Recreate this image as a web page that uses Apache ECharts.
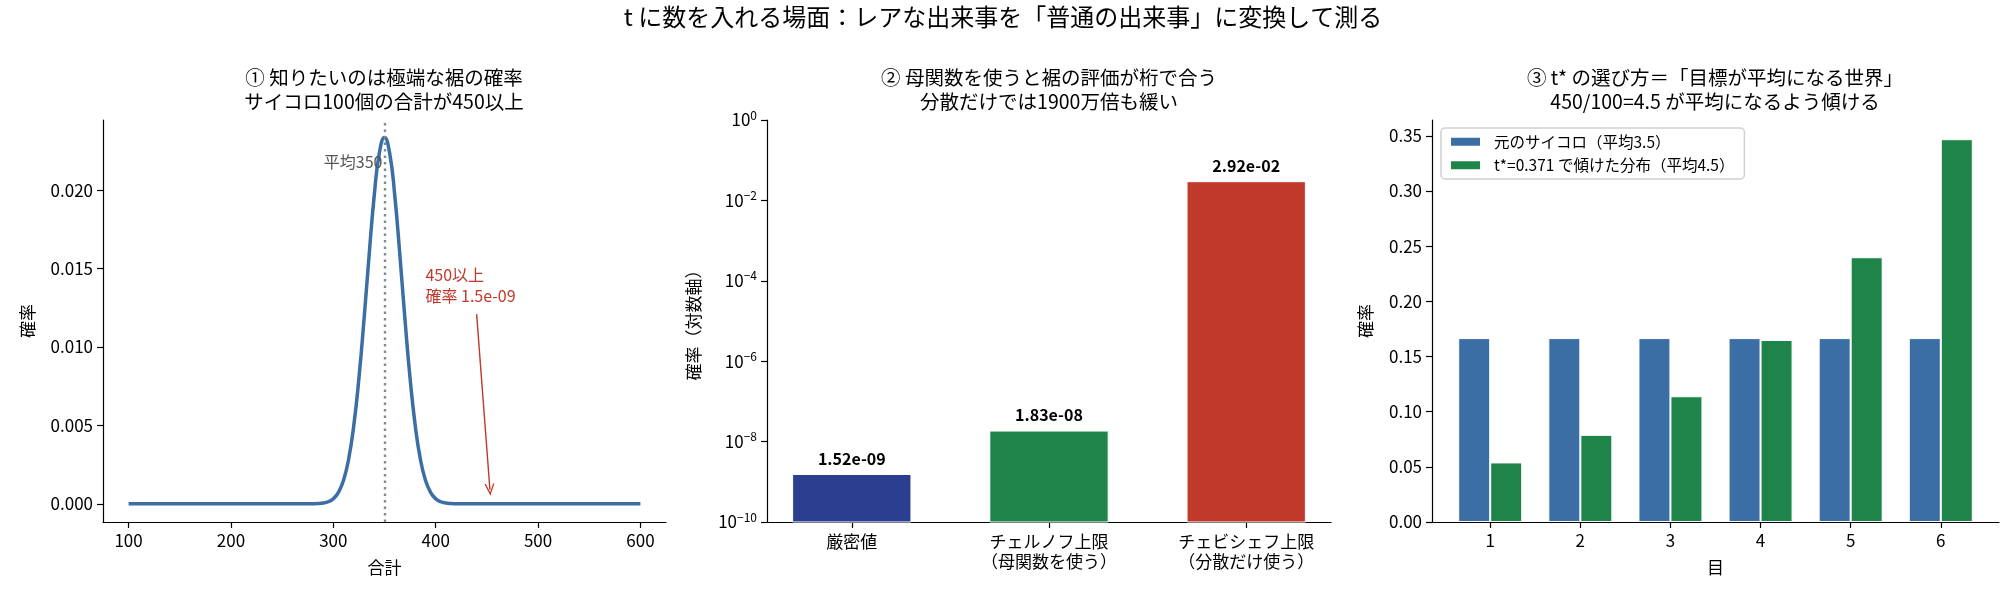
<!DOCTYPE html>
<html lang="ja">
<head>
<meta charset="UTF-8">
<title>t に数を入れる場面</title>
<script src="https://cdn.jsdelivr.net/npm/echarts@6/dist/echarts.min.js"></script>
<style>
  * {margin: 0; padding: 0;}
  body {background: #fff;}
  #main {width: 2015px; height: 598px;}
</style>
</head>
<body>
<div id="main"></div>
<script>
// ---- data ----
const sumX = [100, 200, 250, 270, 275, 280, 285, 290, 295, 300, 305, 310, 315, 320, 325, 330, 335, 340, 345,
              350, 355, 360, 365, 370, 375, 380, 385, 390, 395, 400, 405, 410, 415, 420, 425, 430, 450, 500, 600];
const sumProb = [0, 0, 0, 0.0000004, 0.0000015, 0.0000053, 0.0000167, 0.0000489, 0.000131, 0.000322, 0.000726,
                 0.00151, 0.00286, 0.00500, 0.00800, 0.01177, 0.01588, 0.01968, 0.02238,
                 0.02336, 0.02238, 0.01968, 0.01588, 0.01177, 0.00800, 0.00500, 0.00286, 0.00151, 0.000726,
                 0.000322, 0.000131, 0.0000489, 0.0000167, 0.0000053, 0.0000015, 0.0000004, 0, 0, 0];
const sumTicks = [100, 200, 300, 400, 500, 600];
const probTicks = [0, 0.005, 0.010, 0.015, 0.020];
const meanSum = 350;
const tailSum = 450;
const tailProbText = '1.5e-09';

const boundNames = ['厳密値', 'チェルノフ上限\n（母関数を使う）', 'チェビシェフ上限\n（分散だけ使う）'];
const boundValues = [1.52e-9, 1.83e-8, 2.92e-2];
const logTicks = [1e-10, 1e-8, 1e-6, 1e-4, 1e-2, 1];

const faces = [1, 2, 3, 4, 5, 6];
const fairProbs = [0.1667, 0.1667, 0.1667, 0.1667, 0.1667, 0.1667];
const tiltedProbs = [0.054, 0.079, 0.114, 0.165, 0.240, 0.347];
const faceProbTicks = [0, 0.05, 0.10, 0.15, 0.20, 0.25, 0.30, 0.35];

const seriesNames = ['元のサイコロ（平均3.5）', 't*=0.371 で傾けた分布（平均4.5）'];

const suptitle = 't に数を入れる場面：レアな出来事を「普通の出来事」に変換して測る';
const panelTitles = [
  '① 知りたいのは極端な裾の確率\nサイコロ100個の合計が450以上',
  '② 母関数を使うと裾の評価が桁で合う\n分散だけでは1900万倍も緩い',
  '③ t* の選び方＝「目標が平均になる世界」\n450/100=4.5 が平均になるよう傾ける'
];

// ---- styles ----
const FONT = "'Noto Sans CJK JP', 'Noto Sans', sans-serif";
const BLUE = '#3a6ea5', GREEN = '#1e8449', RED = '#c0392b', NAVY = '#2c3e8f', SLATE = '#7f8c8d';
const boundColors = [NAVY, GREEN, RED];
// open "->" arrow head, tip pointing up
const OPEN_ARROW = 'path://M5,0 L10,10 L8.6,10 L5,2.8 L1.4,10 L0,10 Z';

function axisBase(extra) {
  const a = {
    axisLine: {show: true, onZero: false, lineStyle: {color: '#000', width: 1.2}},
    axisTick: {show: true, length: 6, lineStyle: {color: '#000', width: 1.2}},
    axisLabel: {color: '#000', fontSize: 17, fontFamily: FONT, margin: 10},
    splitLine: {show: false},
    nameLocation: 'middle',
    nameTextStyle: {color: '#000', fontSize: 17, fontFamily: FONT}
  };
  return Object.assign(a, extra);
}

function sci(v) {
  const parts = v.toExponential(2).split('e');
  const e = parseInt(parts[1], 10);
  return parts[0] + 'e' + (e < 0 ? '-' : '+') + String(Math.abs(e)).padStart(2, '0');
}

const chart = echarts.init(document.getElementById('main'));

const option = {
  backgroundColor: '#fff',
  animation: false,
  textStyle: {fontFamily: FONT},
  grid: [
    {left: 103, top: 120, width: 563, height: 402},
    {left: 767, top: 120, width: 564, height: 402},
    {left: 1432, top: 120, width: 567, height: 402}
  ],
  graphic: [
    {type: 'text', x: 1003, y: 4, style: {text: suptitle, font: '24px ' + FONT, lineHeight: 26, fill: '#000', align: 'center', verticalAlign: 'top'}},
    {type: 'text', x: 384, y: 66, style: {text: panelTitles[0], font: '19.5px ' + FONT, lineHeight: 24, fill: '#000', align: 'center', verticalAlign: 'top'}},
    {type: 'text', x: 1049, y: 66, style: {text: panelTitles[1], font: '19.5px ' + FONT, lineHeight: 24, fill: '#000', align: 'center', verticalAlign: 'top'}},
    {type: 'text', x: 1715, y: 66, style: {text: panelTitles[2], font: '19.5px ' + FONT, lineHeight: 24, fill: '#000', align: 'center', verticalAlign: 'top'}}
  ],
  legend: {
    left: 1441, top: 128,
    orient: 'vertical',
    padding: [6, 10, 6, 8],
    itemWidth: 31, itemHeight: 10, itemGap: 8,
    icon: 'rect',
    borderColor: '#d0d0d0', borderWidth: 1.5, borderRadius: 4,
    backgroundColor: 'rgba(255,255,255,0.8)',
    textStyle: {fontSize: 15.5, fontFamily: FONT, color: '#000', padding: [0, 0, 0, 8]},
    data: seriesNames
  },
  xAxis: [
    axisBase({
      type: 'value', gridIndex: 0, min: 75, max: 625, name: '合計', nameGap: 37,
      axisTick: {show: true, length: 6, customValues: sumTicks, lineStyle: {color: '#000', width: 1.2}},
      axisLabel: {color: '#000', fontSize: 17, fontFamily: FONT, margin: 10, customValues: sumTicks}
    }),
    axisBase({
      type: 'value', gridIndex: 1, min: -0.43, max: 2.43,
      axisTick: {show: true, length: 6, customValues: [0, 1, 2], lineStyle: {color: '#000', width: 1.2}},
      axisLabel: {color: '#000', fontSize: 17, fontFamily: FONT, margin: 10, lineHeight: 20, customValues: [0, 1, 2],
        formatter: v => boundNames[Math.round(v)]}
    }),
    axisBase({
      type: 'value', gridIndex: 2, min: 0.354, max: 6.646, name: '目', nameGap: 37,
      axisTick: {show: true, length: 6, customValues: faces, lineStyle: {color: '#000', width: 1.2}},
      axisLabel: {color: '#000', fontSize: 17, fontFamily: FONT, margin: 10, customValues: faces}
    })
  ],
  yAxis: [
    axisBase({
      type: 'value', gridIndex: 0, min: -0.00116, max: 0.02448, name: '確率', nameGap: 67,
      axisTick: {show: true, length: 6, customValues: probTicks, lineStyle: {color: '#000', width: 1.2}},
      axisLabel: {color: '#000', fontSize: 17, fontFamily: FONT, margin: 10, customValues: probTicks,
        formatter: v => v.toFixed(3)}
    }),
    axisBase({
      type: 'log', logBase: 10, gridIndex: 1, min: 1e-10, max: 1, name: '確率（対数軸）', nameGap: 65,
      axisTick: {show: true, length: 6, customValues: logTicks, lineStyle: {color: '#000', width: 1.2}},
      axisLabel: {color: '#000', fontSize: 17, fontFamily: FONT, margin: 10, customValues: logTicks,
        formatter: v => {
          const e = Math.round(Math.log10(v));
          return '{b|10}{s|' + (e < 0 ? '\u2212' + (-e) : e) + '}';
        },
        rich: {
          b: {fontSize: 17, fontFamily: FONT, color: '#000'},
          s: {fontSize: 12, fontFamily: FONT, color: '#000', padding: [0, 0, 10, 0]}
        }
      }
    }),
    axisBase({
      type: 'value', gridIndex: 2, min: 0, max: 0.3644, name: '確率', nameGap: 58,
      axisTick: {show: true, length: 6, customValues: faceProbTicks, lineStyle: {color: '#000', width: 1.2}},
      axisLabel: {color: '#000', fontSize: 17, fontFamily: FONT, margin: 10, customValues: faceProbTicks,
        formatter: v => v.toFixed(2)}
    })
  ],
  series: [
    {
      type: 'line', xAxisIndex: 0, yAxisIndex: 0,
      data: sumX.map((x, i) => [x, sumProb[i]]),
      showSymbol: false, smooth: true,
      lineStyle: {color: BLUE, width: 3.5},
      markLine: {
        silent: true, symbol: ['none', 'none'], label: {show: false},
        lineStyle: {color: SLATE, type: [2.5, 4], width: 2.4},
        data: [
          {xAxis: meanSum},
          [
            {coord: [440, 0.0121], symbol: 'none', lineStyle: {color: RED, width: 1.4, type: 'solid'}},
            {coord: [tailSum + 3, 0.0009], symbol: OPEN_ARROW, symbolSize: [10, 12],
              lineStyle: {color: RED, width: 1.4, type: 'solid'}}
          ]
        ]
      },
      markPoint: {
        silent: true,
        data: [
          {coord: [meanSum - 2, 0.0218], symbolSize: 0,
            label: {show: true, position: 'inside', formatter: '平均' + meanSum, color: '#555', fontSize: 16,
              fontFamily: FONT, align: 'right', verticalAlign: 'middle'}},
          {coord: [390, 0.0126], symbolSize: 0,
            label: {show: true, position: 'inside', formatter: tailSum + '以上\n確率 ' + tailProbText, color: RED,
              fontSize: 16, lineHeight: 21, fontFamily: FONT, align: 'left', verticalAlign: 'bottom'}}
        ]
      }
    },
    {
      type: 'custom', xAxisIndex: 1, yAxisIndex: 1,
      data: boundValues.map((v, i) => [i, v]),
      encode: {x: 0, y: 1},
      renderItem: function (params, api) {
        const x = api.value(0), v = api.value(1);
        const top = api.coord([x, v]);
        const base = api.coord([x, logTicks[0]]);
        const l = api.coord([x - 0.3, v])[0];
        const r = api.coord([x + 0.3, v])[0];
        return {
          type: 'group',
          children: [
            {type: 'rect', shape: {x: l, y: top[1], width: r - l, height: base[1] - top[1]},
              style: {fill: boundColors[params.dataIndex], stroke: '#fff', lineWidth: 1}},
            {type: 'text', x: top[0], y: top[1] - 8,
              style: {text: sci(v), font: 'bold 16px ' + FONT, fill: '#000', align: 'center', verticalAlign: 'bottom'}}
          ]
        };
      }
    },
    {
      name: seriesNames[0], type: 'bar', xAxisIndex: 2, yAxisIndex: 2,
      data: faces.map((f, i) => [f, fairProbs[i]]),
      barWidth: 32, barGap: '0%',
      itemStyle: {color: BLUE, borderColor: '#fff', borderWidth: 1}
    },
    {
      name: seriesNames[1], type: 'bar', xAxisIndex: 2, yAxisIndex: 2,
      data: faces.map((f, i) => [f, tiltedProbs[i]]),
      barWidth: 32, barGap: '0%',
      itemStyle: {color: GREEN, borderColor: '#fff', borderWidth: 1}
    }
  ]
};

chart.setOption(option);
</script>
</body>
</html>
